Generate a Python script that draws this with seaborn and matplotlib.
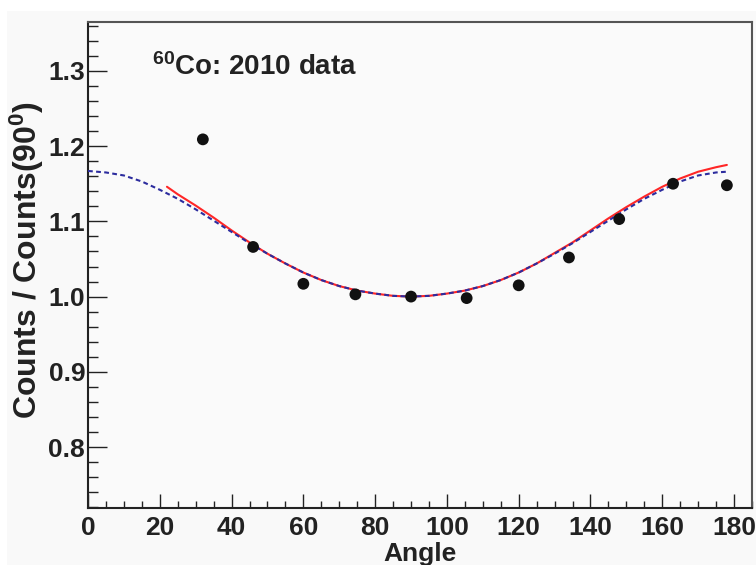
import numpy as np
import pandas as pd
import seaborn as sns
import matplotlib.pyplot as plt
from matplotlib.patches import Rectangle
from matplotlib.ticker import MultipleLocator

# measured points (angle, counts normalised to 90 deg)
angle = [32, 46, 60, 74.5, 90, 105.5, 120, 134, 148, 163, 178]
ratio = [1.209, 1.066, 1.017, 1.003, 1.000, 0.998, 1.015, 1.052, 1.103, 1.150, 1.148]

# dashed blue fit curve
blue_x = [0, 5, 10, 15, 20, 25, 30, 35, 40, 45, 50, 55, 60, 65, 70, 75, 80, 85, 90,
          95, 100, 105, 110, 115, 120, 125, 130, 135, 140, 145, 150, 155, 160, 165,
          170, 175, 178]
blue_y = [1.167, 1.165, 1.161, 1.153, 1.142, 1.130, 1.116, 1.101, 1.086, 1.071, 1.057,
          1.044, 1.032, 1.022, 1.014, 1.008, 1.004, 1.001, 1.000,
          1.001, 1.004, 1.008, 1.014, 1.022, 1.032, 1.044, 1.057, 1.071, 1.086, 1.101,
          1.116, 1.130, 1.142, 1.153, 1.161, 1.165, 1.166]

# solid red fit curve
red_x = [22, 25, 30, 35, 40, 45, 50, 55, 60, 65, 70, 75, 80, 85, 90,
         95, 100, 105, 110, 115, 120, 125, 130, 135, 140, 145, 150, 155, 160, 165,
         170, 175, 178]
red_y = [1.146, 1.136, 1.121, 1.105, 1.088, 1.072, 1.057, 1.044, 1.032, 1.022, 1.014,
         1.008, 1.004, 1.001, 1.000,
         1.001, 1.004, 1.008, 1.014, 1.022, 1.032, 1.044, 1.058, 1.072, 1.088, 1.104,
         1.119, 1.133, 1.146, 1.157, 1.166, 1.172, 1.175]

sns.set_style("ticks")
plt.rcParams['font.family'] = ['Liberation Sans', 'DejaVu Sans']
plt.rcParams['font.weight'] = 'bold'
plt.rcParams['mathtext.fontset'] = 'custom'
plt.rcParams['mathtext.rm'] = 'Liberation Sans:bold'
plt.rcParams['mathtext.bf'] = 'Liberation Sans:bold'
plt.rcParams['mathtext.it'] = 'Liberation Sans:bold'

fig = plt.figure(figsize=(7.56, 5.65), dpi=100, facecolor='white')
fig.patches.append(Rectangle((7 / 756, 0), 1, 1 - 11 / 565, transform=fig.transFigure,
                             facecolor='#f9f9f9', edgecolor='none', zorder=-10))
ax = fig.add_axes([88 / 756, 1 - 508 / 565, 664 / 756, 486 / 565])
ax.set_facecolor('#fafafa')

sns.lineplot(x=blue_x, y=blue_y, ax=ax, color='#2c2c9e', linewidth=1.5, zorder=3)
ax.lines[-1].set_dashes((2.3, 1.6))
sns.lineplot(x=red_x, y=red_y, ax=ax, color='#ff2626', linewidth=1.5, zorder=2)
sns.scatterplot(x=angle, y=ratio, ax=ax, color='#111111', s=72, edgecolor='none', zorder=4)

ax.set_xlim(0, 185)
ax.set_ylim(0.719, 1.365)
ax.xaxis.set_minor_locator(MultipleLocator(5))
ax.yaxis.set_minor_locator(MultipleLocator(0.02))
ax.set_xticks(range(0, 181, 20))
ax.set_yticks([0.8, 0.9, 1.0, 1.1, 1.2, 1.3])
ax.set_yticklabels(['0.8', '0.9', '1.0', '1.1', '1.2', '1.3'])

ax.tick_params(axis='x', which='major', direction='in', length=10, width=1, pad=6,
               labelsize=19, color='#222222')
ax.tick_params(axis='x', which='minor', direction='in', length=5, width=1, color='#222222')
ax.tick_params(axis='y', which='major', direction='in', length=14, width=1, pad=2,
               labelsize=19, color='#222222')
ax.tick_params(axis='y', which='minor', direction='in', length=7, width=1, color='#222222')
for lab in ax.get_xticklabels() + ax.get_yticklabels():
    lab.set_fontweight('bold')
    lab.set_color('#222222')

for side in ['left', 'bottom']:
    ax.spines[side].set_color('#222222')
    ax.spines[side].set_linewidth(1.5)
for side in ['top', 'right']:
    ax.spines[side].set_visible(True)
    ax.spines[side].set_color('#555555')
    ax.spines[side].set_linewidth(1.5)

ax.set_xlabel('Angle', fontsize=19, fontweight='bold', color='#222222', labelpad=1)
ax.set_ylabel(r'Counts / Counts(90$^{0}$)', fontsize=23, fontweight='bold',
              color='#222222')
ax.yaxis.set_label_coords(-0.063, 0.51)

ax.text(0.096, 0.891, r'$^{60}$Co: 2010 data', transform=ax.transAxes, fontsize=20,
        fontweight='bold', color='#222222', va='baseline', ha='left')

fig.savefig('out.png', dpi=100, facecolor=fig.get_facecolor())
